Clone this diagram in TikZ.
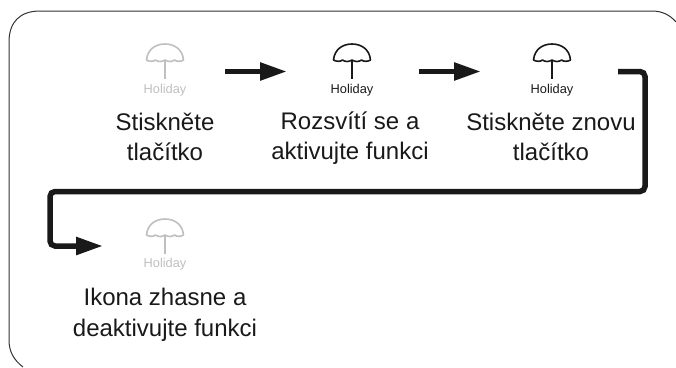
\documentclass[tikz,border=0pt]{standalone}
\usepackage{fontspec}
\setmainfont{Liberation Sans}
\usetikzlibrary{arrows.meta}
\definecolor{offc}{gray}{0.75}
\definecolor{onc}{gray}{0.1}
\tikzset{
  x=1pt,y=-1pt,
  caption/.style={align=center,font=\fontsize{24}{29.5}\selectfont,text=onc,inner sep=0pt},
  iconlabel/.style={font=\fontsize{12.8}{14}\selectfont,inner sep=0pt},
  flow/.style={line width=5.5pt,draw=onc,rounded corners=5pt,-{Triangle[length=27pt,width=17pt]}},
  pics/umbrella/.style={code={
    \draw[line width=1.6pt,draw=#1,line join=round]
      (-18.5,16) .. controls (-17.5,5) and (-9,0) .. (0,0) .. controls (9,0) and (17.5,5) .. (18.5,16)
      .. controls (16,17.5) and (12,18) .. (9.5,16) .. controls (7,18) and (3,18) .. (0,16)
      .. controls (-3,18) and (-7,18) .. (-9.5,16) .. controls (-12,18) and (-16,17.5) .. (-18.5,16) -- cycle;
    \draw[line width=2pt,draw=#1] (0,16) -- (0,35);
  }}
}
\begin{document}
\begin{tikzpicture}
\useasboundingbox (0,0) rectangle (676,367);
\draw[line width=1pt,draw=black!80] (23,367) .. controls (14,360) and (9,352) .. (9,340) -- (9,42)
  .. controls (9,22) and (20,11) .. (40,11) -- (652,11) .. controls (662,11) and (670,15) .. (676,22);

\pic at (165,44) {umbrella=offc};
\pic at (352,44) {umbrella=onc};
\pic at (552,44) {umbrella=onc};
\pic at (165,219) {umbrella=offc};

\node[iconlabel,text=offc] (l1) at (165,90) {Holiday};
\node[iconlabel,text=onc] (l2) at (352,90) {Holiday};
\node[iconlabel,text=onc] (l3) at (552,90) {Holiday};
\node[iconlabel,text=offc] (l4) at (165,264) {Holiday};

\node[caption] (c1) at (165,137) {Stiskněte\\tlačítko};
\node[caption] (c2) at (350,138) {Rozsvítí se a\\aktivujte funkci};
\node[caption] (c3) at (551,137) {Stiskněte znovu\\tlačítko};
\node[caption] (c4) at (165,315) {Ikona zhasne a\\[1.5pt]deaktivujte funkci};

\coordinate (a1s) at (225,71.5);
\coordinate (a1t) at (287,71.5);
\coordinate (a2s) at (419,71.5);
\coordinate (a2t) at (481,71.5);
\coordinate (b1) at (618,71.5);
\coordinate (b2) at (645,71.5);
\coordinate (b3) at (645,191.5);
\coordinate (b4) at (50,191.5);
\coordinate (b5) at (50,246);
\coordinate (b7) at (103,246);

\draw[flow] (a1s) -- (a1t);
\draw[flow] (a2s) -- (a2t);
\draw[flow] (b1) -- (b2) -- (b3) -- (b4) -- (b5) -- (b7);
\end{tikzpicture}
\end{document}
